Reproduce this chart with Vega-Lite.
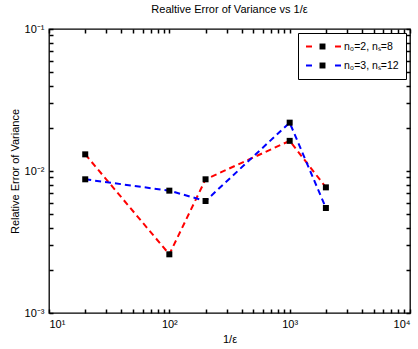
{
  "$schema": "https://vega.github.io/schema/vega-lite/v6.json",
  "width": 361,
  "height": 284,
  "autosize": "none",
  "padding": {"left": 49, "top": 29, "right": 8, "bottom": 36},
  "background": "white",
  "title": {"text": "Realtive Error of Variance vs 1/ε", "fontSize": 11, "font": "Liberation Sans", "fontWeight": "normal", "color": "black", "offset": 8},
  "config": {
    "view": {"stroke": "black", "strokeWidth": 1.3},
    "axis": {"domain": false, "grid": false, "tickColor": "black", "tickSize": 4, "tickWidth": 1.5, "labelFont": "Liberation Sans", "labelFontSize": 11, "labelColor": "black", "labelOverlap": false, "labelBound": false, "titleFont": "Liberation Sans", "titleFontSize": 11, "titleFontWeight": "normal", "titleColor": "black"},
    "legend": {"labelFont": "Liberation Sans", "labelFontSize": 11, "labelColor": "black"}
  },
  "data": {"values": [
    {"inv_eps": 20, "err": 0.0131, "series": "n₀=2, nₛ=8", "marker": "a"},
    {"inv_eps": 100, "err": 0.00259, "series": "n₀=2, nₛ=8", "marker": "a"},
    {"inv_eps": 200, "err": 0.00874, "series": "n₀=2, nₛ=8", "marker": "a"},
    {"inv_eps": 1000, "err": 0.0163, "series": "n₀=2, nₛ=8", "marker": "a"},
    {"inv_eps": 2000, "err": 0.00767, "series": "n₀=2, nₛ=8", "marker": "a"},
    {"inv_eps": 20, "err": 0.00874, "series": "n₀=3, nₛ=12", "marker": "b"},
    {"inv_eps": 100, "err": 0.00727, "series": "n₀=3, nₛ=12", "marker": "b"},
    {"inv_eps": 200, "err": 0.00615, "series": "n₀=3, nₛ=12", "marker": "b"},
    {"inv_eps": 1000, "err": 0.0219, "series": "n₀=3, nₛ=12", "marker": "b"},
    {"inv_eps": 2000, "err": 0.00549, "series": "n₀=3, nₛ=12", "marker": "b"}
  ]},
  "layer": [
    {
      "mark": {"type": "square", "size": 36, "opacity": 0},
      "encoding": {
        "x": {"field": "inv_eps", "type": "quantitative", "scale": {"type": "log", "domain": [10, 10000], "nice": false},
          "axis": {"orient": "bottom", "title": null, "labels": false, "offset": -4,
            "values": [10,20,30,40,50,60,70,80,90,100,200,300,400,500,600,700,800,900,1000,2000,3000,4000,5000,6000,7000,8000,9000,10000]}},
        "y": {"field": "err", "type": "quantitative", "scale": {"type": "log", "domain": [0.001, 0.1], "nice": false},
          "axis": {"orient": "left", "title": null, "labels": false, "offset": -4,
            "values": [0.001,0.002,0.003,0.004,0.005,0.006,0.007,0.008,0.009,0.01,0.02,0.03,0.04,0.05,0.06,0.07,0.08,0.09,0.1]}}
      }
    },
    {
      "mark": {"type": "line", "strokeDash": [6, 4], "strokeWidth": 2},
      "encoding": {
        "x": {"field": "inv_eps", "type": "quantitative", "scale": {"type": "log", "domain": [10, 10000], "nice": false},
          "axis": {"orient": "bottom", "title": "1/ε", "titlePadding": 4, "labelPadding": 5, "ticks": false,
            "values": [10,100,1000,10000],
            "labelExpr": "datum.value == 10 ? '10¹' : datum.value == 100 ? '10²' : datum.value == 1000 ? '10³' : '10⁴'"}},
        "y": {"field": "err", "type": "quantitative", "scale": {"type": "log", "domain": [0.001, 0.1], "nice": false},
          "axis": {"orient": "left", "title": "Relative Error of Variance", "titlePadding": 4, "labelPadding": 5, "ticks": false,
            "values": [0.001,0.01,0.1],
            "labelExpr": "datum.value < 0.005 ? '10⁻³' : datum.value < 0.05 ? '10⁻²' : '10⁻¹'"}},
        "color": {"field": "series", "type": "nominal", "scale": {"domain": ["n₀=2, nₛ=8", "n₀=3, nₛ=12"], "range": ["#ff0000", "#0000ff"]},
          "legend": {"title": null, "orient": "none", "legendX": 249, "legendY": 4, "strokeColor": "black", "padding": 7, "symbolType": "stroke", "symbolSize": 1225, "symbolDash": [6, 23], "symbolStrokeWidth": 2, "clipHeight": 13, "rowPadding": 6, "labelOffset": 2, "labelFontSize": 10.5}}
      }
    },
    {
      "mark": {"type": "square", "size": 36, "opacity": 1, "strokeWidth": 0},
      "encoding": {
        "x": {"field": "inv_eps", "type": "quantitative", "scale": {"type": "log", "domain": [10, 10000], "nice": false},
          "axis": {"orient": "top", "title": null, "labels": false, "offset": -4,
            "values": [10,20,30,40,50,60,70,80,90,100,200,300,400,500,600,700,800,900,1000,2000,3000,4000,5000,6000,7000,8000,9000,10000]}},
        "y": {"field": "err", "type": "quantitative", "scale": {"type": "log", "domain": [0.001, 0.1], "nice": false},
          "axis": {"orient": "right", "title": null, "labels": false, "offset": -4,
            "values": [0.001,0.002,0.003,0.004,0.005,0.006,0.007,0.008,0.009,0.01,0.02,0.03,0.04,0.05,0.06,0.07,0.08,0.09,0.1]}},
        "fill": {"field": "marker", "type": "nominal", "scale": {"range": ["black", "black"]},
          "legend": {"title": null, "orient": "none", "legendX": 249, "legendY": 4, "padding": 7, "symbolType": "M-0.17,-0.17h0.34v0.34h-0.34Z", "symbolSize": 1225, "symbolStrokeWidth": 0, "symbolOpacity": 1, "clipHeight": 13, "rowPadding": 6, "labelOffset": 2, "labelFontSize": 10.5, "labelExpr": "''"}}
      }
    }
  ],
  "resolve": {"axis": {"x": "independent", "y": "independent"}}
}
